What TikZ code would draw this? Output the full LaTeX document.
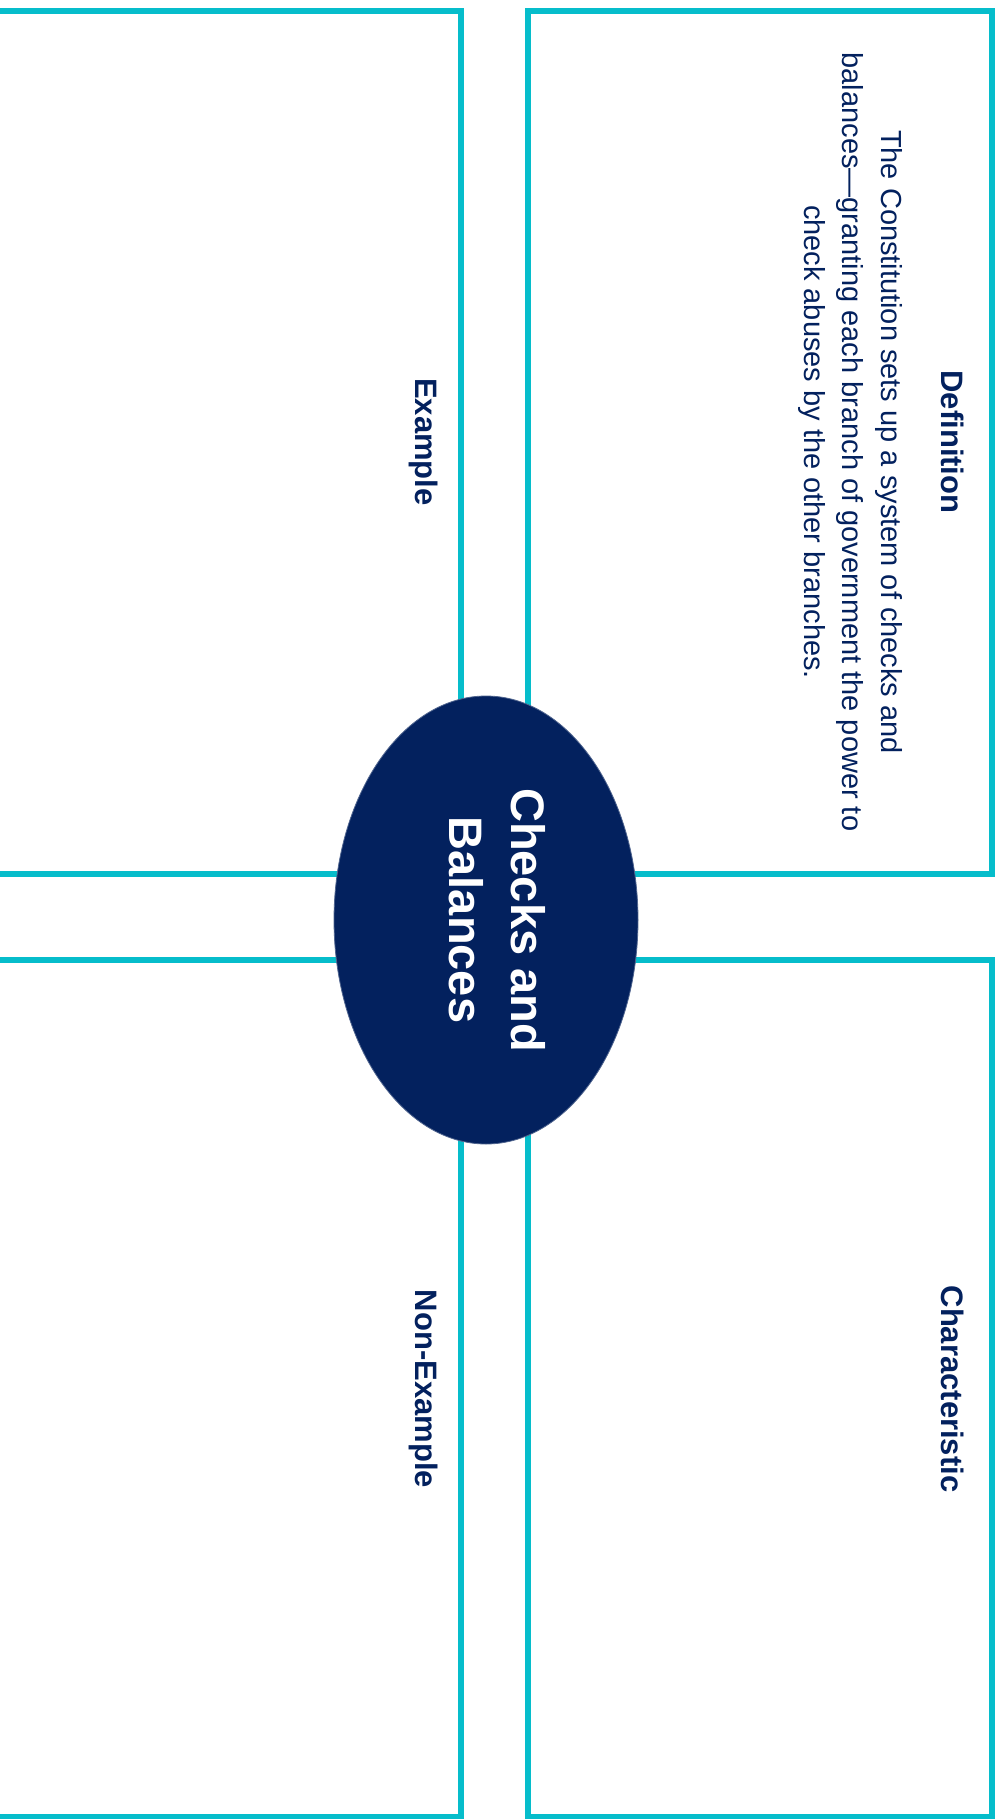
\documentclass[tikz,border=0pt]{standalone}
\usepackage{fontspec}
\setmainfont{Liberation Sans}
\usetikzlibrary{shapes.geometric}
\definecolor{frame}{RGB}{6,189,203}
\definecolor{navy}{RGB}{3,33,94}
\begin{document}
\begin{tikzpicture}[x=1pt,y=-1pt,
  box/.style={draw=frame,line width=5.5pt},
  title/.style={text=navy,font=\fontsize{31}{36}\selectfont\bfseries,rotate=-90,inner sep=0pt},
  body/.style={text=navy,font=\fontsize{29}{38.5}\selectfont,rotate=-90,align=center,inner sep=0pt},
  core/.style={ellipse,fill=navy,draw=navy!70!white,line width=0.8pt,minimum width=304pt,minimum height=448pt,inner sep=0pt},
  coretext/.style={text=white,font=\fontsize{47}{62}\selectfont\bfseries,rotate=-90,align=center,inner sep=0pt}]
\useasboundingbox (0,0) rectangle (1002,1819);
\fill[white] (0,0) rectangle (1002,1819);
\draw[box] (-10,11) rectangle (461,874);
\draw[box] (528,11) rectangle (992,874);
\draw[box] (-10,960) rectangle (461,1817);
\draw[box] (528,960) rectangle (992,1817);
\node[title] (deftitle) at (953,442) {Definition};
\node[title] (extitle) at (424,442) {Example};
\node[title] (chartitle) at (953,1389) {Characteristic};
\node[title] (nonextitle) at (424,1389) {Non-Example};
\node[body] (defbody) at (850,442) {The Constitution sets up a system of checks and\\balances---granting each branch of government the power to\\check abuses by the other branches.};
\node[core] (core) at (486,920) {};
\node[coretext] (coretxt) at (497,920) {Checks and\\Balances};
\end{tikzpicture}
\end{document}
